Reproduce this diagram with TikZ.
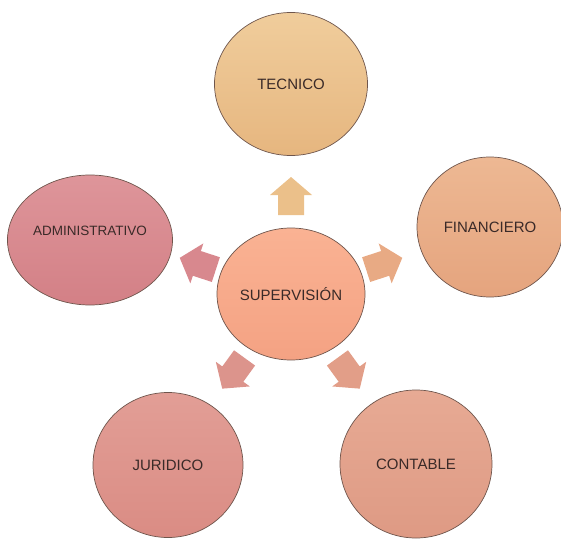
\documentclass[tikz,border=0pt]{standalone}
\usepackage{fontspec}
\setmainfont{Liberation Sans}
\usetikzlibrary{shapes.geometric}
\definecolor{circline}{HTML}{6E554C}
\definecolor{textcol}{HTML}{3A2A28}
\definecolor{tecTop}{HTML}{F0CD9C}
\definecolor{tecBot}{HTML}{E6B67F}
\definecolor{finTop}{HTML}{EDB893}
\definecolor{finBot}{HTML}{E5A47E}
\definecolor{supTop}{HTML}{FAB293}
\definecolor{supBot}{HTML}{F4A283}
\definecolor{conTop}{HTML}{E7AA94}
\definecolor{conBot}{HTML}{DE9A84}
\definecolor{jurTop}{HTML}{E29E96}
\definecolor{jurBot}{HTML}{DA8C84}
\definecolor{admTop}{HTML}{DE959A}
\definecolor{admBot}{HTML}{D38086}
\definecolor{arrTec}{HTML}{EBC08A}
\definecolor{arrFin}{HTML}{E8AA84}
\definecolor{arrCon}{HTML}{E29E88}
\definecolor{arrJur}{HTML}{DC948C}
\definecolor{arrAdm}{HTML}{D8888E}
\begin{document}
\begin{tikzpicture}[x=1pt,y=1pt,
 area/.style={ellipse,draw=circline,line width=0.7pt,inner sep=0pt,text=textcol,font=\fontsize{15}{18}\selectfont}]
\useasboundingbox (0,0) rectangle (561,539);
\node[area,minimum width=148,minimum height=132,top color=supTop,bottom color=supBot] (sup) at (291,245) {SUPERVISIÓN};
\node[area,minimum width=153,minimum height=143,top color=tecTop,bottom color=tecBot] (tec) at (291,455) {TECNICO};
\node[area,minimum width=146,minimum height=140,top color=finTop,bottom color=finBot] (fin) at (490,312) {FINANCIERO};
\node[area,minimum width=152,minimum height=148,top color=conTop,bottom color=conBot] (con) at (416,75) {CONTABLE};
\node[area,minimum width=150,minimum height=145,top color=jurTop,bottom color=jurBot] (jur) at (168,74) {JURIDICO};
\node[area,minimum width=165,minimum height=130,top color=admTop,bottom color=admBot,font=\fontsize{13.5}{16}\selectfont,text height=11pt,text depth=20pt] (adm) at (90,299) {ADMINISTRATIVO};
\foreach \ang/\col in {90/arrTec,18/arrFin,306/arrCon,234/arrJur,162/arrAdm}
 \fill[fill=\col,shift={(sup.center)},rotate=\ang] (79,-13)--(99,-13)--(99,-21)--(117,0)--(99,21)--(99,13)--(79,13)--cycle;
\end{tikzpicture}
\end{document}
